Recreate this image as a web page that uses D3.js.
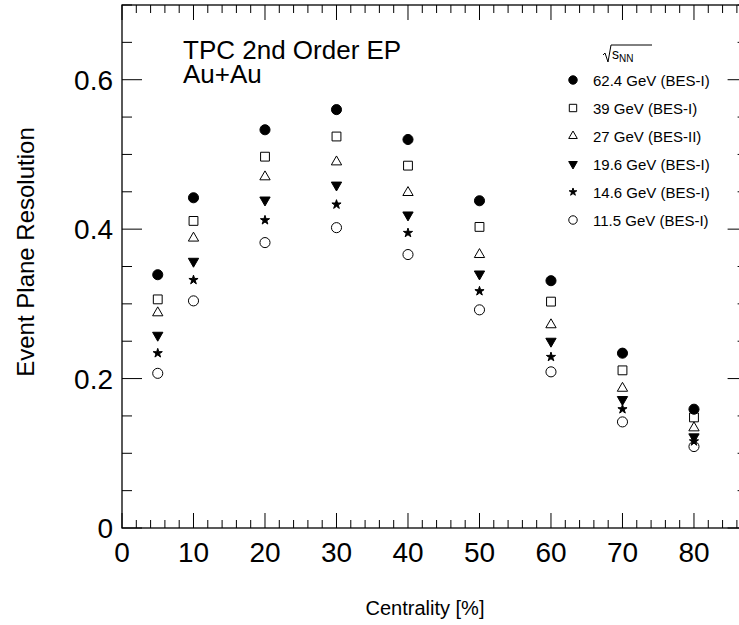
<!DOCTYPE html>
<html>
<head>
<meta charset="utf-8">
<script src="https://cdn.jsdelivr.net/npm/d3@7"></script>
<style>
  body { margin: 0; background: #fff; }
  svg { display: block; font-family: "Liberation Sans", Arial, Helvetica, sans-serif; }
</style>
</head>
<body>
<script>
const width = 739;
const height = 625;

// centrality bins (%)
const centrality = [5, 10, 20, 30, 40, 50, 60, 70, 80];

// event plane resolution per energy
const res624 = [0.339, 0.442, 0.533, 0.560, 0.520, 0.438, 0.331, 0.234, 0.159];
const res39 = [0.306, 0.411, 0.497, 0.524, 0.485, 0.403, 0.303, 0.211, 0.148];
const res27 = [0.288, 0.388, 0.470, 0.490, 0.449, 0.366, 0.272, 0.187, 0.134];
const res196 = [0.258, 0.357, 0.439, 0.459, 0.419, 0.340, 0.250, 0.172, 0.122];
const res146 = [0.234, 0.332, 0.412, 0.433, 0.395, 0.317, 0.229, 0.159, 0.116];
const res115 = [0.207, 0.304, 0.382, 0.402, 0.366, 0.292, 0.209, 0.142, 0.109];

const seriesLabels = ['62.4 GeV (BES-I)', '39 GeV (BES-I)', '27 GeV (BES-II)',
  '19.6 GeV (BES-I)', '14.6 GeV (BES-I)', '11.5 GeV (BES-I)'];
const seriesValues = [res624, res39, res27, res196, res146, res115];

const xTicks = [0, 10, 20, 30, 40, 50, 60, 70, 80];
const yTicks = [0, 0.2, 0.4, 0.6];

// marker styles: symbol, size, filled, rotation
const markers = [
  { type: d3.symbolCircle, size: 80, filled: true, rot: 0 },
  { type: d3.symbolSquare, size: 78, filled: false, rot: 0 },
  { type: d3.symbolTriangle, size: 46, filled: false, rot: 0 },
  { type: d3.symbolTriangle, size: 46, filled: true, rot: 180 },
  { type: d3.symbolStar, size: 26, filled: true, rot: 0 },
  { type: d3.symbolCircle, size: 80, filled: false, rot: 0 }
];

const plot = { left: 122, right: 747.6, top: 5, bottom: 528 };

const x = d3.scaleLinear().domain([0, 87.5]).range([plot.left, plot.right]);
const y = d3.scaleLinear().domain([0, 0.7]).range([plot.bottom, plot.top]);

const svg = d3.select('body').append('svg')
  .attr('width', width)
  .attr('height', height);

// frame
svg.append('rect')
  .attr('x', plot.left)
  .attr('y', plot.top)
  .attr('width', plot.right - plot.left)
  .attr('height', plot.bottom - plot.top)
  .attr('fill', 'none')
  .attr('stroke', '#000')
  .attr('stroke-width', 1.3);

// ticks (drawn inside, on all four sides)
const tickG = svg.append('g').attr('stroke', '#000').attr('stroke-width', 1);

const xMinor = d3.range(0, 88, 2);
xMinor.forEach(v => {
  const major = v % 10 === 0;
  const len = major ? 15 : 8;
  tickG.append('line')
    .attr('x1', x(v)).attr('x2', x(v))
    .attr('y1', plot.bottom).attr('y2', plot.bottom - len);
  tickG.append('line')
    .attr('x1', x(v)).attr('x2', x(v))
    .attr('y1', plot.top).attr('y2', plot.top + len);
});

const yMinor = d3.range(0, 0.701, 0.05);
yMinor.forEach(v => {
  const major = Math.abs(v / 0.2 - Math.round(v / 0.2)) < 1e-6;
  const len = major ? 20 : 10;
  tickG.append('line')
    .attr('x1', plot.left).attr('x2', plot.left + len)
    .attr('y1', y(v)).attr('y2', y(v));
  tickG.append('line')
    .attr('x1', plot.right).attr('x2', plot.right - len)
    .attr('y1', y(v)).attr('y2', y(v));
});

// tick labels
svg.append('g')
  .selectAll('text')
  .data(xTicks)
  .join('text')
    .attr('x', d => x(d))
    .attr('y', 562)
    .attr('text-anchor', 'middle')
    .attr('font-size', 28)
    .text(d => d);

svg.append('g')
  .selectAll('text')
  .data(yTicks)
  .join('text')
    .attr('x', 113)
    .attr('y', d => y(d) + 10)
    .attr('text-anchor', 'end')
    .attr('font-size', 28)
    .text(d => d === 0 ? '0' : d.toFixed(1));

// axis titles
svg.append('text')
  .attr('x', 425)
  .attr('y', 615)
  .attr('text-anchor', 'middle')
  .attr('font-size', 20)
  .text('Centrality [%]');

svg.append('text')
  .attr('transform', 'translate(34,252) rotate(-90)')
  .attr('text-anchor', 'middle')
  .attr('font-size', 24)
  .text('Event Plane Resolution');

// plot label
svg.append('text')
  .attr('x', 183).attr('y', 59)
  .attr('font-size', 26)
  .text('TPC 2nd Order EP');
svg.append('text')
  .attr('x', 183).attr('y', 83)
  .attr('font-size', 26)
  .text('Au+Au');

// data points
const symbolPath = (m, scale) => d3.symbol().type(m.type).size(m.size * scale)();

seriesValues.forEach((vals, i) => {
  const m = markers[i];
  svg.append('g')
    .selectAll('path')
    .data(vals)
    .join('path')
      .attr('d', symbolPath(m, 1))
      .attr('transform', (d, j) => `translate(${x(centrality[j])},${y(d)}) rotate(${m.rot})`)
      .attr('fill', m.filled ? '#000' : 'none')
      .attr('stroke', '#000')
      .attr('stroke-width', 1);
});

// legend
const legend = svg.append('g');
const legY0 = 80;
const legDy = 28;

// sqrt(s_NN) header
legend.append('path')
  .attr('d', 'M603,55 L605,53 L608,62 L611,45 L652,45')
  .attr('fill', 'none')
  .attr('stroke', '#000')
  .attr('stroke-width', 1);
const hdr = legend.append('text')
  .attr('x', 612).attr('y', 59)
  .attr('font-size', 14)
  .text('s');
hdr.append('tspan')
  .attr('font-size', 10)
  .attr('dy', 3)
  .text('NN');

seriesLabels.forEach((lab, i) => {
  const m = markers[i];
  const ly = legY0 + i * legDy;
  legend.append('path')
    .attr('d', symbolPath(m, 0.7))
    .attr('transform', `translate(573,${ly}) rotate(${m.rot})`)
    .attr('fill', m.filled ? '#000' : 'none')
    .attr('stroke', '#000')
    .attr('stroke-width', 1);
  legend.append('text')
    .attr('x', 593).attr('y', ly + 5.5)
    .attr('font-size', 15)
    .text(lab);
});
</script>
</body>
</html>
